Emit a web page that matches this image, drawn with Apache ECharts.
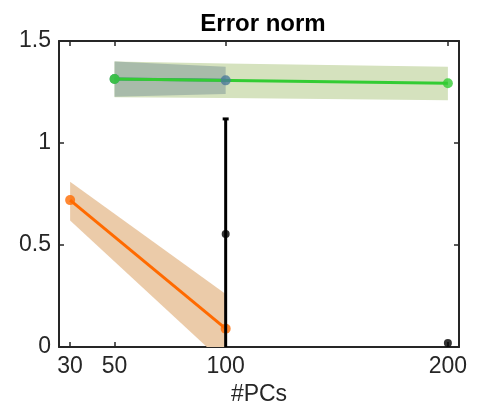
<!DOCTYPE html>
<html><head><meta charset="utf-8">
<script src="https://cdn.jsdelivr.net/npm/echarts@6/dist/echarts.min.js"></script>
<style>html,body{margin:0;padding:0;background:#fff}#c{width:477px;height:404px}</style>
</head><body><div id="c"></div>
<script>
var xTicks = [30, 50, 100, 200];
var yTicks = [0, 0.5, 1, 1.5];

var orangeX = [30, 100];
var orangeY = [0.72, 0.09];
var orangeLo = [0.62, -0.085];
var orangeHi = [0.81, 0.26];

var greenX = [50, 100, 200];
var greenY = [1.314, 1.305, 1.293];
var greenLo = [1.224, 1.22, 1.21];
var greenHi = [1.40, 1.39, 1.374];

var blueX = [50, 100];
var blueY = [1.314, 1.307];
var blueLo = [1.227, 1.24];
var blueHi = [1.40, 1.374];

var blackX = [100, 200];
var blackY = [0.554, 0.02];
var blackLo = [-0.02, 0.02];
var blackHi = [1.118, 0.02];

function pairs(xs, ys) { return xs.map(function (x, i) { return [x, ys[i]]; }); }
function bandSeries(xs, lo, hi, color, z) {
  return {
    type: 'custom', z: z, clip: true, silent: true,
    data: xs.map(function (x, i) { return [x, lo[i], hi[i]]; }),
    encode: { x: 0, y: [1, 2] },
    renderItem: function (params, api) {
      if (params.dataIndex !== 0) return null;
      var pts = [];
      for (var i = 0; i < xs.length; i++) pts.push(api.coord([xs[i], hi[i]]));
      for (var j = xs.length - 1; j >= 0; j--) pts.push(api.coord([xs[j], lo[j]]));
      return { type: 'polygon', shape: { points: pts }, style: { fill: color } };
    }
  };
}

var font = 'Liberation Sans, Arial, sans-serif';
var series = [];
series.push(bandSeries(greenX, greenLo, greenHi, '#d5e2be', 1));
series.push(bandSeries(blueX, blueLo, blueHi, '#a8bbaa', 1));
series.push(bandSeries(orangeX, orangeLo, orangeHi, '#ebcba9', 1));
series.push({ type: 'line', data: pairs(blueX, blueY), showSymbol: false, symbol: 'none',
  lineStyle: { color: '#4a7b9a', width: 3 }, z: 2 });
series.push({ type: 'line', data: pairs(orangeX, orangeY), symbol: 'none',
  lineStyle: { color: '#ff6a00', width: 3 }, z: 3 });
series.push({ type: 'line', data: [[greenX[0], greenY[0]], [greenX[2], greenY[2]]], symbol: 'none',
  lineStyle: { color: '#33cc33', width: 3 }, z: 3 });
series.push({ type: 'scatter', data: pairs(orangeX, orangeY), symbolSize: 10,
  itemStyle: { color: '#ff6a00' }, z: 4 });
series.push({ type: 'scatter', data: pairs(blueX, blueY), symbolSize: 10,
  itemStyle: { color: '#4a7b9a' }, z: 4 });
series.push({ type: 'scatter', data: [[greenX[0], greenY[0]], [greenX[2], greenY[2]]], symbolSize: 10,
  itemStyle: { color: '#33cc33' }, z: 5 });
series.push({ type: 'custom', z: 6, clip: true,
  data: blackX.map(function (x, i) { return [x, blackLo[i], blackHi[i]]; }),
  renderItem: function (params, api) {
    var x = api.value(0);
    if (api.value(2) - api.value(1) < 0.01) return null;
    var lo = api.coord([x, api.value(1)]);
    var hi = api.coord([x, api.value(2)]);
    return { type: 'group', children: [
      { type: 'line', shape: { x1: lo[0], y1: lo[1], x2: hi[0], y2: hi[1] },
        style: { stroke: '#000', lineWidth: 3 } },
      { type: 'line', shape: { x1: hi[0] - 3, y1: hi[1], x2: hi[0] + 3, y2: hi[1] },
        style: { stroke: '#000', lineWidth: 3 } }
    ] };
  },
  encode: { x: 0, y: [1, 2] }
});
series.push({ type: 'scatter', data: pairs(blackX, blackY), symbolSize: 8,
  itemStyle: { color: '#000' }, z: 7 });

var axisLine = { show: true, onZero: false, lineStyle: { color: '#262626', width: 2 } };
var tickStyle = { show: true, inside: true, length: 5, lineStyle: { color: '#262626', width: 1.5 } };

var chart = echarts.init(document.getElementById('c'), null, { renderer: 'canvas' });
chart.setOption({
  animation: false,
  backgroundColor: '#fff',
  title: { text: 'Error norm', left: 258, top: 7, textAlign: 'center',
    textStyle: { fontFamily: font, fontWeight: 'bold', fontSize: 24, color: '#000' } },
  grid: { left: 59, right: 18, top: 41, bottom: 57, outerBoundsMode: 'none', containLabel: false },
  xAxis: [
    { type: 'value', min: 25, max: 205, position: 'bottom',
      axisLine: axisLine, axisTick: Object.assign({ customValues: xTicks }, tickStyle),
      axisLabel: { customValues: xTicks, fontFamily: font, fontSize: 23, color: '#262626', margin: 8,
        formatter: function (v) { return String(v); } },
      splitLine: { show: false },
      name: '#PCs', nameLocation: 'middle', nameGap: 31,
      nameTextStyle: { fontFamily: font, fontSize: 23, color: '#262626' } },
    { type: 'value', min: 25, max: 205, position: 'top',
      axisLine: axisLine, axisTick: Object.assign({ customValues: xTicks }, tickStyle),
      axisLabel: { show: false }, splitLine: { show: false } }
  ],
  yAxis: [
    { type: 'value', min: 0, max: 1.5, position: 'left',
      axisLine: axisLine, axisTick: Object.assign({ customValues: yTicks }, tickStyle),
      axisLabel: { customValues: yTicks, fontFamily: font, fontSize: 23, color: '#262626', margin: 8,
        formatter: function (v) { return String(v); } },
      splitLine: { show: false } },
    { type: 'value', min: 0, max: 1.5, position: 'right',
      axisLine: axisLine, axisTick: Object.assign({ customValues: yTicks }, tickStyle),
      axisLabel: { show: false }, splitLine: { show: false } }
  ],
  series: series
});
</script>
</body></html>
